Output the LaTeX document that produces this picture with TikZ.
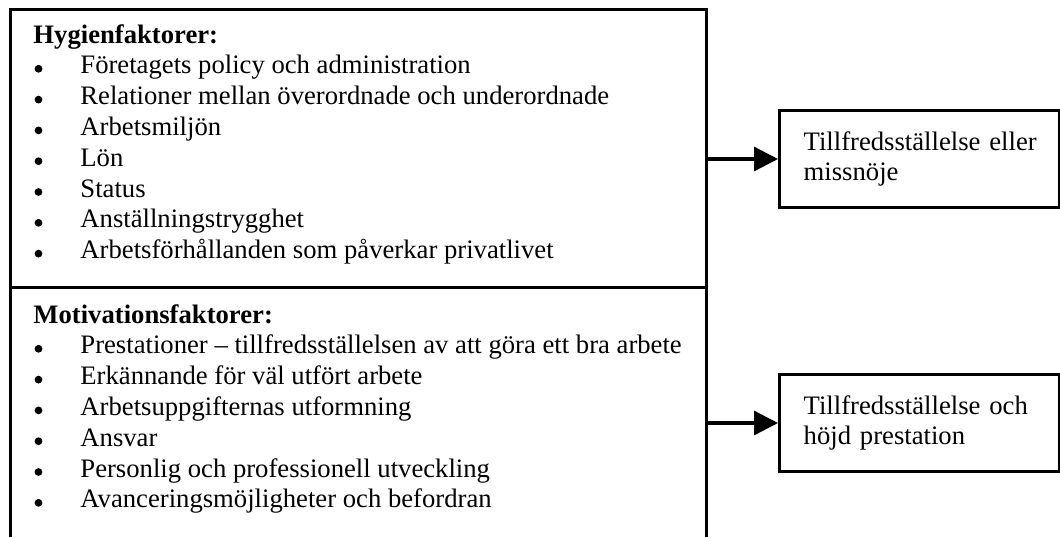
\documentclass[tikz,border=0pt]{standalone}
\usepackage{fontspec}
\setmainfont{Liberation Serif}
\usepackage{tikz}
\usetikzlibrary{arrows.meta, positioning}
\tikzstyle{arrow}=[-{Triangle[length=10.8pt, width=10.8pt]}, line width=1.5pt]
\tikzstyle{frame}=[line width=1.5pt]
\tikzstyle{item}=[anchor=base west, inner sep=0pt, font=\fontsize{12}{13.86}\selectfont]
\tikzstyle{head}=[item, font=\fontsize{12}{13.86}\selectfont\bfseries]
\tikzstyle{dot}=[circle, fill, inner sep=0pt, minimum size=3.5pt]
\tikzstyle{result}=[draw, line width=1.5pt, anchor=north west, minimum width=126pt,
                    minimum height=43.5pt, inner xsep=10.8pt, text width=104.4pt,
                    align=left, font=\fontsize{12}{13.86}\selectfont]

\begin{document}
\begin{tikzpicture}[x=0.45pt, y=-0.45pt]
  \useasboundingbox (0,0) rectangle (1060,537);
  % ram runt faktorerna
  \draw[frame] (10.5,537) |- (706.5,9.5) -- (706.5,537);
  \draw[frame] (10.5,287.5) -- (706.5,287.5);
  \coordinate (fr) at (706.5,0);

  \node[head] (hyg) at (33,43) {Hygienfaktorer:};
  \foreach \txt [count=\i] in {Företagets policy och administration,
      Relationer mellan överordnade och underordnade, Arbetsmiljön, Lön, Status,
      Anställningstrygghet, Arbetsförhållanden som påverkar privatlivet}{
    \node[dot] (hb\i) at (38.5, 38+30.8*\i) {};
    \node[item] (h\i) at (80, 43+30.8*\i) {\txt};
  }

  \node[head] (mot) at (33,323) {Motivationsfaktorer:};
  \foreach \txt [count=\i] in {Prestationer – tillfredsställelsen av att göra ett bra arbete,
      Erkännande för väl utfört arbete, Arbetsuppgifternas utformning, Ansvar,
      Personlig och professionell utveckling, Avanceringsmöjligheter och befordran}{
    \node[dot] (mb\i) at (38.5, 318+30.8*\i) {};
    \node[item] (m\i) at (80, 323+30.8*\i) {\txt};
  }

  \node[result] (res1) at (778,109) {Tillfredsställelse~eller\\missnöje};
  \node[result] (res2) at (778,373) {Tillfredsställelse~och\\höjd prestation};

  \draw[arrow] (fr |- res1.west) -- (res1.west);
  \draw[arrow] (fr |- res2.west) -- (res2.west);
\end{tikzpicture}
\end{document}
